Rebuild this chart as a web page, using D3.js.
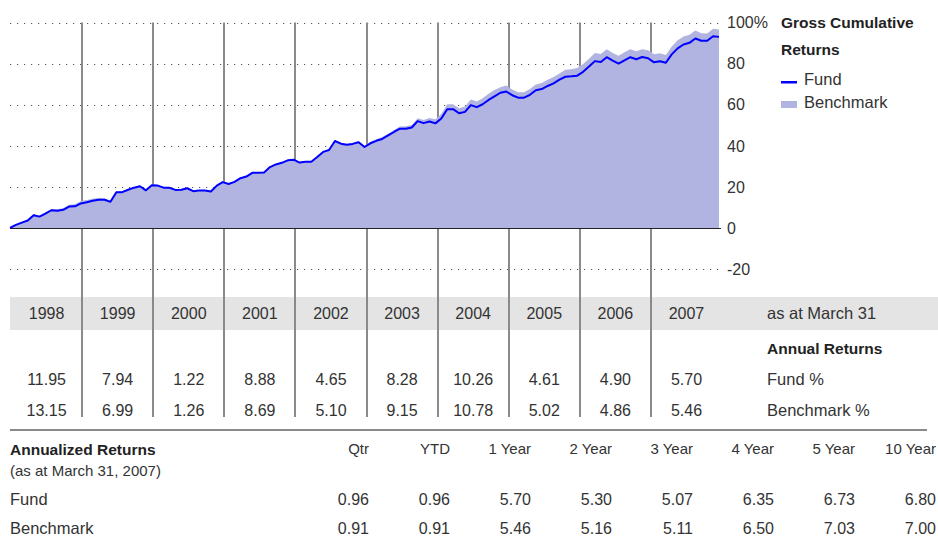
<!DOCTYPE html>
<html>
<head>
<meta charset="utf-8">
<script src="https://cdn.jsdelivr.net/npm/d3@7"></script>
<style>
  body { margin: 0; background: #fff; }
  svg text {
    font-family: "Liberation Sans", Arial, sans-serif;
    font-size: 16.5px;
    fill: #333;
  }
  svg text.num { font-size: 16px; }
  svg text.bold { font-weight: bold; fill: #222; font-size: 15.5px; }
</style>
</head>
<body>
<div id="chart"></div>
<script>
// years shown under the chart (12-month periods ending March 31)
const years = ["1998", "1999", "2000", "2001", "2002", "2003", "2004", "2005", "2006", "2007"];

// gross cumulative returns, monthly (%)
const fundCum = [
  0, 1.5, 2.6, 3.6, 6.2, 5.5, 7.0, 8.6, 8.4, 8.8, 10.4, 10.5,
  11.9, 12.5, 13.2, 13.7, 13.7, 12.7, 17.4, 17.4, 18.6, 19.6, 20.3, 18.3,
  20.8, 20.6, 19.6, 19.5, 18.5, 18.6, 19.3, 17.9, 18.2, 18.2, 17.7, 20.6,
  22.3, 21.4, 22.4, 24.2, 25.0, 26.8, 26.9, 27.0, 29.6, 30.9, 31.7, 32.9,
  33.2, 31.8, 32.2, 32.2, 34.5, 37.0, 37.9, 42.3, 41.0, 40.5, 40.9, 41.7,
  39.4, 41.2, 42.4, 43.3, 45.0, 46.7, 48.3, 48.3, 48.9, 52.0, 51.0, 51.8,
  50.9, 53.3, 57.8, 57.8, 55.8, 56.5, 59.8, 58.8, 60.2, 62.3, 64.0, 65.8,
  66.4, 64.6, 63.4, 63.4, 64.8, 67.0, 67.6, 69.1, 70.4, 72.2, 73.6, 73.8,
  74.1, 76.0, 78.6, 81.2, 80.8, 83.1, 81.4, 80.0, 81.6, 83.1, 82.1, 83.2,
  82.6, 80.6, 81.1, 80.4, 84.5, 87.4, 89.3, 90.1, 92.2, 91.1, 91.1, 93.3,
  93.0
];
const benchCum = [
  0, 1.6, 2.8, 3.9, 6.6, 5.9, 7.6, 9.2, 9.1, 9.6, 11.3, 11.5,
  13.1, 13.6, 14.2, 14.6, 14.5, 13.4, 17.9, 17.8, 19.0, 19.9, 20.6, 18.6,
  21.1, 20.9, 19.9, 19.8, 18.8, 18.9, 19.6, 18.2, 18.5, 18.5, 18.0, 20.9,
  22.6, 21.7, 22.7, 24.5, 25.3, 27.1, 27.2, 27.3, 29.8, 31.1, 31.9, 33.0,
  33.2, 32.0, 32.4, 32.5, 34.8, 37.3, 38.2, 42.7, 41.4, 40.9, 41.4, 42.2,
  40.0, 41.9, 43.2, 44.2, 45.9, 47.7, 49.4, 49.5, 50.1, 53.4, 52.5, 53.5,
  52.9, 55.5, 60.2, 60.2, 58.3, 59.1, 62.5, 61.6, 63.1, 65.3, 67.1, 68.5,
  69.3, 67.4, 66.0, 66.1, 67.6, 69.8, 70.6, 72.1, 73.5, 75.2, 77.0, 77.3,
  77.8, 79.8, 82.4, 85.1, 84.7, 87.0, 85.2, 83.8, 85.5, 87.0, 86.0, 87.0,
  86.5, 84.5, 85.0, 84.2, 88.3, 91.3, 93.2, 94.0, 96.1, 94.8, 94.6, 96.9,
  96.6
];

// annual returns (%)
const fundAnnual  = [11.95, 7.94, 1.22, 8.88, 4.65, 8.28, 10.26, 4.61, 4.90, 5.70];
const benchAnnual = [13.15, 6.99, 1.26, 8.69, 5.10, 9.15, 10.78, 5.02, 4.86, 5.46];

// annualized returns (%)
const periods = ["Qtr", "YTD", "1 Year", "2 Year", "3 Year", "4 Year", "5 Year", "10 Year"];
const fundAnnualized  = [0.96, 0.96, 5.70, 5.30, 5.07, 6.35, 6.73, 6.80];
const benchAnnualized = [0.91, 0.91, 5.46, 5.16, 5.11, 6.50, 7.03, 7.00];

// y axis ticks
const yTicks = [-20, 0, 20, 40, 60, 80, 100];

const W = 938, H = 540;
const fmt = d3.format(".2f");

// scales
const x = d3.scaleLinear().domain([0, fundCum.length - 1]).range([10, 719]);
const xYear = d3.scaleLinear().domain([0, years.length]).range([11, 722]);
const y = d3.scaleLinear().domain([-20, 100]).range([269, 22.5]);
const xPeriod = d3.scaleLinear().domain([0, periods.length - 1]).range([369, 936]);

const svg = d3.select("#chart").append("svg")
              .attr("width", W)
              .attr("height", H);

// grey band behind the year labels
svg.append("rect")
   .attr("x", 10).attr("y", 297)
   .attr("width", W - 10).attr("height", 33)
   .attr("fill", "#e4e4e4");

// dotted gridlines
svg.append("g")
   .selectAll("line")
   .data(yTicks.filter(d => d !== 0))
   .enter().append("line")
   .attr("x1", 10).attr("x2", 719)
   .attr("y1", d => Math.round(y(d)) + 0.5)
   .attr("y2", d => Math.round(y(d)) + 0.5)
   .attr("stroke", "#555")
   .attr("stroke-width", 1.2)
   .attr("stroke-dasharray", "1.2,5.8");

// vertical year separators
svg.append("g")
   .selectAll("line")
   .data(d3.range(1, years.length))
   .enter().append("line")
   .attr("x1", d => Math.round(xYear(d)))
   .attr("x2", d => Math.round(xYear(d)))
   .attr("y1", y(100))
   .attr("y2", 417)
   .attr("stroke", "#8a8a8a")
   .attr("stroke-width", 2);

// benchmark area
const area = d3.area()
               .x((d, i) => x(i))
               .y0(y(0))
               .y1(d => y(d));

svg.append("path")
   .datum(benchCum)
   .attr("d", area)
   .attr("fill", "#b1b3e0");

// zero line
svg.append("line")
   .attr("x1", 10).attr("x2", 721)
   .attr("y1", Math.round(y(0)) + 0.5).attr("y2", Math.round(y(0)) + 0.5)
   .attr("stroke", "#222")
   .attr("stroke-width", 1.2);

// fund line
const line = d3.line()
               .x((d, i) => x(i))
               .y(d => y(d));

svg.append("path")
   .datum(fundCum)
   .attr("d", line)
   .attr("fill", "none")
   .attr("stroke", "#0000ff")
   .attr("stroke-width", 2)
   .attr("stroke-linejoin", "round");

// y axis labels on the right
svg.append("g")
   .selectAll("text")
   .data(yTicks)
   .enter().append("text")
   .attr("class", "num")
   .attr("x", 727)
   .attr("y", d => y(d))
   .attr("dy", "0.36em")
   .text(d => d === 100 ? "100%" : d);

// legend
svg.append("text").attr("class", "bold")
   .attr("x", 781).attr("y", 22).attr("dy", "0.36em")
   .text("Gross Cumulative");
svg.append("text").attr("class", "bold")
   .attr("x", 781).attr("y", 49).attr("dy", "0.36em")
   .text("Returns");
svg.append("rect")
   .attr("x", 781).attr("y", 81)
   .attr("width", 16).attr("height", 2.5)
   .attr("fill", "#0000ff");
svg.append("text")
   .attr("x", 804).attr("y", 79).attr("dy", "0.36em")
   .text("Fund");
svg.append("rect")
   .attr("x", 781).attr("y", 101)
   .attr("width", 16).attr("height", 7)
   .attr("fill", "#b1b3e0");
svg.append("text")
   .attr("x", 804).attr("y", 102).attr("dy", "0.36em")
   .text("Benchmark");

// year labels and annual returns
const cols = svg.append("g")
                .selectAll("g")
                .data(years)
                .enter().append("g")
                .attr("transform", (d, i) => "translate(" + xYear(i + 0.5) + ",0)");

cols.append("text")
    .attr("class", "num")
    .attr("text-anchor", "middle")
    .attr("y", 313).attr("dy", "0.36em")
    .text(d => d);
cols.append("text")
    .attr("class", "num")
    .attr("text-anchor", "middle")
    .attr("y", 379).attr("dy", "0.36em")
    .text((d, i) => fmt(fundAnnual[i]));
cols.append("text")
    .attr("class", "num")
    .attr("text-anchor", "middle")
    .attr("y", 410).attr("dy", "0.36em")
    .text((d, i) => fmt(benchAnnual[i]));

svg.append("text")
   .attr("x", 767).attr("y", 313).attr("dy", "0.36em")
   .text("as at March 31");
svg.append("text").attr("class", "bold")
   .attr("x", 767).attr("y", 348).attr("dy", "0.36em")
   .text("Annual Returns");
svg.append("text")
   .attr("x", 767).attr("y", 379).attr("dy", "0.36em")
   .text("Fund %");
svg.append("text")
   .attr("x", 767).attr("y", 410).attr("dy", "0.36em")
   .text("Benchmark %");

// annualized returns table
svg.append("line")
   .attr("x1", 10).attr("x2", 927)
   .attr("y1", 430).attr("y2", 430)
   .attr("stroke", "#8a8a8a")
   .attr("stroke-width", 2);

svg.append("text").attr("class", "bold")
   .attr("x", 10).attr("y", 449).attr("dy", "0.36em")
   .text("Annualized Returns");
svg.append("text")
   .attr("x", 10).attr("y", 471).attr("dy", "0.36em")
   .style("font-size", "15px")
   .text("(as at March 31, 2007)");
svg.append("text")
   .attr("x", 10).attr("y", 499).attr("dy", "0.36em")
   .text("Fund");
svg.append("text")
   .attr("x", 10).attr("y", 528).attr("dy", "0.36em")
   .text("Benchmark");

const pcols = svg.append("g")
                 .selectAll("g")
                 .data(periods)
                 .enter().append("g")
                 .attr("transform", (d, i) => "translate(" + xPeriod(i) + ",0)");

pcols.append("text")
     .attr("text-anchor", "end")
     .attr("y", 449).attr("dy", "0.36em")
     .style("font-size", "15px")
     .text(d => d);
pcols.append("text")
     .attr("class", "num")
     .attr("text-anchor", "end")
     .attr("y", 499).attr("dy", "0.36em")
     .text((d, i) => fmt(fundAnnualized[i]));
pcols.append("text")
     .attr("class", "num")
     .attr("text-anchor", "end")
     .attr("y", 528).attr("dy", "0.36em")
     .text((d, i) => fmt(benchAnnualized[i]));
</script>
</body>
</html>
